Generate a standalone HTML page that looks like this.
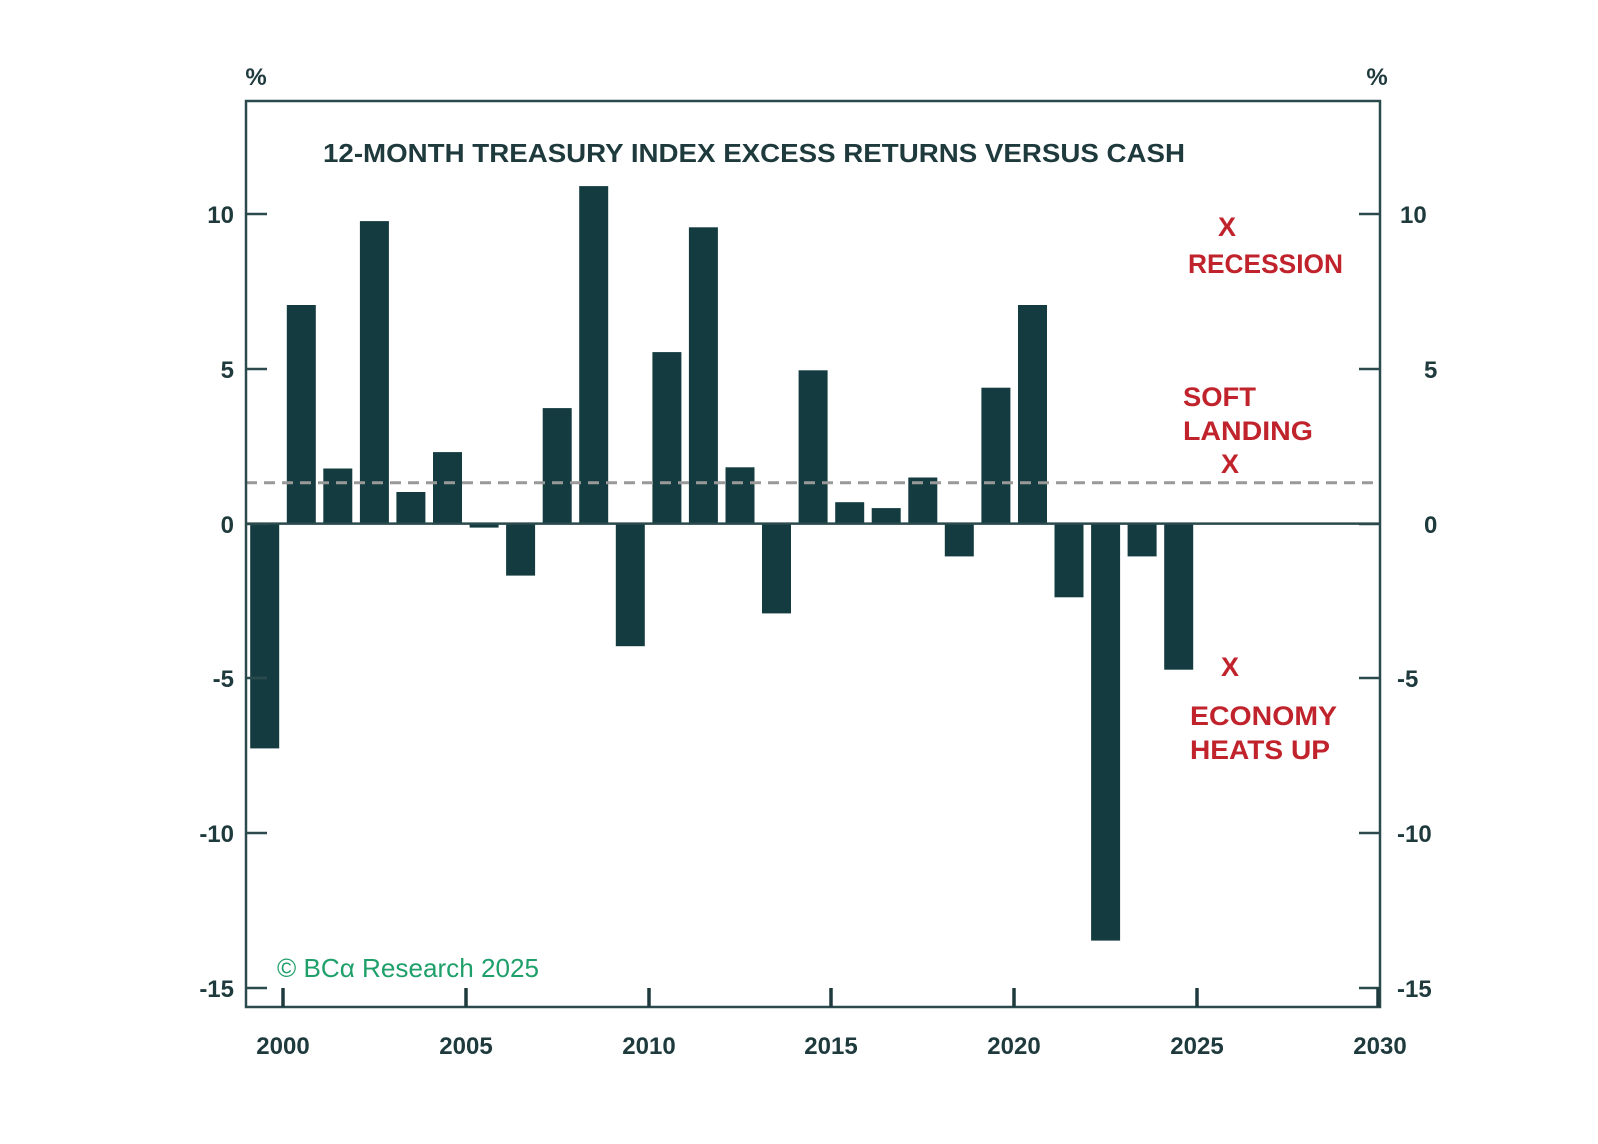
<!DOCTYPE html>
<html><head><meta charset="utf-8"><style>
html,body{margin:0;padding:0;background:#fff;}
svg{display:block;}
text{font-family:"Liberation Sans",sans-serif;}
</style></head><body>
<svg width="1598" height="1144" viewBox="0 0 1598 1144" xmlns="http://www.w3.org/2000/svg">
<rect width="1598" height="1144" fill="#fff"/>
<g fill="#143c40">
<rect x="250.2" y="523.6" width="29" height="224.8"/>
<rect x="286.8" y="305.0" width="29" height="218.6"/>
<rect x="323.3" y="468.5" width="29" height="55.1"/>
<rect x="359.9" y="221.1" width="29" height="302.5"/>
<rect x="396.4" y="492.0" width="29" height="31.6"/>
<rect x="433.0" y="452.1" width="29" height="71.5"/>
<rect x="469.6" y="523.6" width="29" height="4.0"/>
<rect x="506.1" y="523.6" width="29" height="52.0"/>
<rect x="542.7" y="408.1" width="29" height="115.5"/>
<rect x="579.2" y="186.1" width="29" height="337.5"/>
<rect x="615.8" y="523.6" width="29" height="122.6"/>
<rect x="652.4" y="352.1" width="29" height="171.5"/>
<rect x="688.9" y="227.3" width="29" height="296.3"/>
<rect x="725.5" y="467.3" width="29" height="56.3"/>
<rect x="762.0" y="523.6" width="29" height="89.8"/>
<rect x="798.6" y="370.3" width="29" height="153.3"/>
<rect x="835.2" y="502.2" width="29" height="21.4"/>
<rect x="871.7" y="508.1" width="29" height="15.5"/>
<rect x="908.3" y="477.5" width="29" height="46.1"/>
<rect x="944.8" y="523.6" width="29" height="32.8"/>
<rect x="981.4" y="387.7" width="29" height="135.9"/>
<rect x="1018.0" y="305.0" width="29" height="218.6"/>
<rect x="1054.5" y="523.6" width="29" height="73.7"/>
<rect x="1091.1" y="523.6" width="29" height="417.0"/>
<rect x="1127.6" y="523.6" width="29" height="32.8"/>
<rect x="1164.2" y="523.6" width="29" height="146.1"/>
</g>
<line x1="246" y1="482.7" x2="1380" y2="482.7" stroke="#999" stroke-width="3" stroke-dasharray="11 7"/>
<line x1="246" y1="523.6" x2="1380" y2="523.6" stroke="#2a4a4d" stroke-width="2.5"/>
<rect x="246" y="101" width="1134" height="906" fill="none" stroke="#2a4a4d" stroke-width="2.5"/>
<g stroke="#2a4a4d" stroke-width="2.5">
<line x1="246" y1="214" x2="267" y2="214"/><line x1="246" y1="369" x2="267" y2="369"/><line x1="246" y1="524" x2="267" y2="524"/><line x1="246" y1="678" x2="267" y2="678"/><line x1="246" y1="833" x2="267" y2="833"/><line x1="246" y1="988" x2="267" y2="988"/>
<line x1="1359" y1="214" x2="1380" y2="214"/><line x1="1359" y1="369" x2="1380" y2="369"/><line x1="1359" y1="524" x2="1380" y2="524"/><line x1="1359" y1="678" x2="1380" y2="678"/><line x1="1359" y1="833" x2="1380" y2="833"/><line x1="1359" y1="988" x2="1380" y2="988"/>
</g>
<g stroke="#1f3a3d" stroke-width="3.5">
<line x1="283" y1="988" x2="283" y2="1007"/><line x1="466" y1="988" x2="466" y2="1007"/><line x1="649" y1="988" x2="649" y2="1007"/><line x1="831" y1="988" x2="831" y2="1007"/><line x1="1014" y1="988" x2="1014" y2="1007"/><line x1="1197" y1="988" x2="1197" y2="1007"/><line x1="1378" y1="988" x2="1378" y2="1007"/>
</g>
<g fill="#1f3a3d" font-weight="bold" font-size="24">
<text x="234" y="223" text-anchor="end">10</text><text x="234" y="378" text-anchor="end">5</text><text x="234" y="533" text-anchor="end">0</text><text x="234" y="687" text-anchor="end">-5</text><text x="234" y="842" text-anchor="end">-10</text><text x="234" y="997" text-anchor="end">-15</text>
<text x="1400" y="223">10</text><text x="1424" y="378">5</text><text x="1424" y="533">0</text><text x="1397" y="687">-5</text><text x="1397" y="842">-10</text><text x="1397" y="997">-15</text>
<text x="283" y="1054" text-anchor="middle">2000</text><text x="466" y="1054" text-anchor="middle">2005</text><text x="649" y="1054" text-anchor="middle">2010</text><text x="831" y="1054" text-anchor="middle">2015</text><text x="1014" y="1054" text-anchor="middle">2020</text><text x="1197" y="1054" text-anchor="middle">2025</text><text x="1380" y="1054" text-anchor="middle">2030</text>
<text x="256" y="85" text-anchor="middle">%</text><text x="1377" y="85" text-anchor="middle">%</text>
</g>
<text x="323" y="162" fill="#1f3a3d" font-size="26" font-weight="bold" textLength="862" lengthAdjust="spacingAndGlyphs">12-MONTH TREASURY INDEX EXCESS RETURNS VERSUS CASH</text>
<g fill="#c0232b" font-size="27" font-weight="bold">
<text x="1227" y="236" text-anchor="middle">X</text>
<text x="1188" y="273" textLength="155" lengthAdjust="spacingAndGlyphs">RECESSION</text>
<text x="1183" y="406" textLength="73" lengthAdjust="spacingAndGlyphs">SOFT</text>
<text x="1183" y="440" textLength="130" lengthAdjust="spacingAndGlyphs">LANDING</text>
<text x="1230" y="473" text-anchor="middle">X</text>
<text x="1230" y="676" text-anchor="middle">X</text>
<text x="1190" y="725" textLength="147" lengthAdjust="spacingAndGlyphs">ECONOMY</text>
<text x="1190" y="759" textLength="140" lengthAdjust="spacingAndGlyphs">HEATS UP</text>
</g>
<text x="277" y="977" fill="#1fa06a" font-size="26" font-family="Liberation Serif,serif" textLength="262" lengthAdjust="spacingAndGlyphs">© BCα Research 2025</text>
</svg>
</body></html>
